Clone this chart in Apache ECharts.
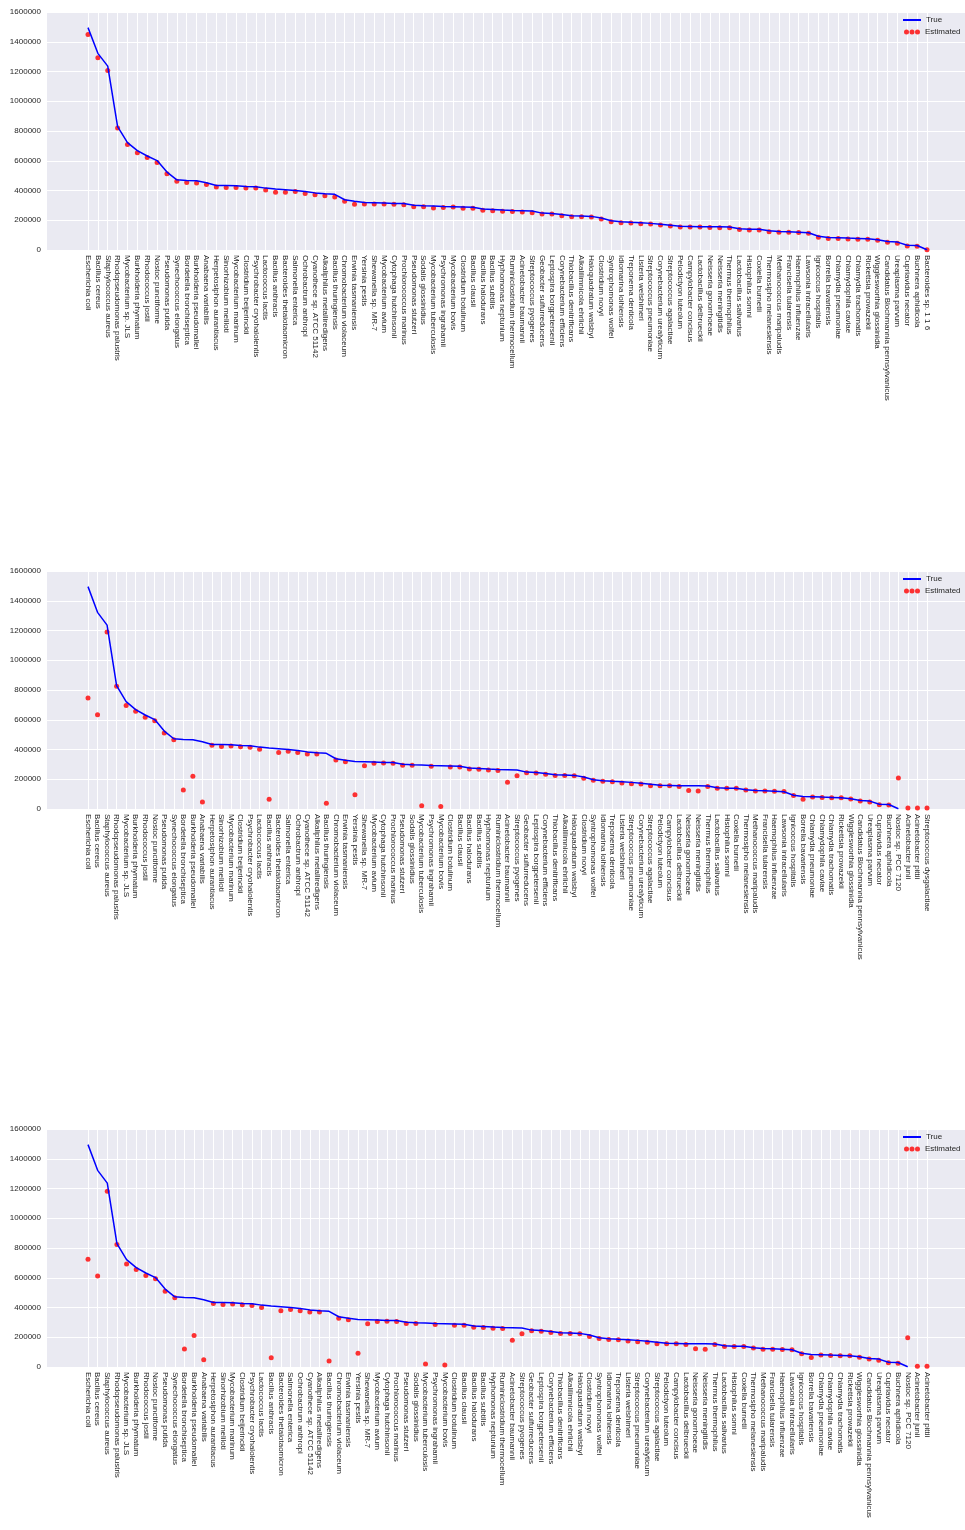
<!DOCTYPE html>
<html>
<head>
<meta charset="utf-8">
<script src="https://cdn.jsdelivr.net/npm/echarts@6/dist/echarts.min.js"></script>
<style>
html,body{margin:0;padding:0;background:#fff;}
#c{width:965px;height:1530px;}
</style>
</head>
<body>
<div id="c"></div>
<script>
// ---- categories ----
const baseCategories = [
'Escherichia coli','Bacillus cereus','Staphylococcus aureus','Rhodopseudomonas palustris','Mycobacterium sp. JLS','Burkholderia phymatum','Rhodococcus jostii','Nostoc punctiforme','Pseudomonas putida','Synechococcus elongatus',
'Bordetella bronchiseptica','Burkholderia pseudomallei','Anabaena variabilis','Herpetosiphon aurantiacus','Sinorhizobium meliloti','Mycobacterium marinum','Clostridium beijerinckii','Psychrobacter cryohalolentis','Lactococcus lactis','Bacillus anthracis',
'Bacteroides thetaiotaomicron','Salmonella enterica','Ochrobactrum anthropi','Cyanothece sp. ATCC 51142','Alkaliphilus metalliredigens','Bacillus thuringiensis','Chromobacterium violaceum','Erwinia tasmaniensis','Yersinia pestis','Shewanella sp. MR-7',
'Mycobacterium avium','Cytophaga hutchinsonii','Prochlorococcus marinus','Pseudomonas stutzeri','Sodalis glossinidius','Mycobacterium tuberculosis','Psychromonas ingrahamii','Mycobacterium bovis','Clostridium botulinum','Bacillus clausii',
'Bacillus halodurans','Bacillus subtilis','Hyphomonas neptunium','Ruminiclostridium thermocellum','Acinetobacter baumannii','Streptococcus pyogenes','Geobacter sulfurreducens','Leptospira borgpetersenii','Corynebacterium efficiens','Thiobacillus denitrificans',
'Alkalilimnicola ehrlichii','Haloquadratum walsbyi','Clostridium novyi','Syntrophomonas wolfei','Idiomarina loihiensis','Treponema denticola','Listeria welshimeri','Streptococcus pneumoniae','Corynebacterium urealyticum','Streptococcus agalactiae',
'Pelodictyon luteolum','Campylobacter concisus','Lactobacillus delbrueckii','Neisseria gonorrhoeae','Neisseria meningitidis','Thermus thermophilus','Lactobacillus salivarius','Histophilus somni','Coxiella burnetii','Thermosipho melanesiensis',
'Methanococcus maripaludis','Francisella tularensis','Haemophilus influenzae','Lawsonia intracellularis','Ignicoccus hospitalis','Borrelia bavariensis','Chlamydia pneumoniae','Chlamydophila caviae','Chlamydia trachomatis','Rickettsia prowazekii',
'Wigglesworthia glossinidia','Candidatus Blochmannia pennsylvanicus','Ureaplasma parvum','Cupriavidus necator','Buchnera aphidicola'
];
const extraCategories1 = ['Bacteroides sp. 1 1 6'];
const extraCategories2 = ['Nostoc sp. PCC 7120','Acinetobacter junii','Acinetobacter pittii','Streptococcus dysgalactiae'];
const extraCategories3 = ['Nostoc sp. PCC 7120','Acinetobacter junii','Acinetobacter pittii'];

// ---- true values (shared part) ----
const trueBase = [
1495000,1322000,1236000,830000,722000,668000,632000,601000,524000,472000,
468000,465000,452000,434000,433000,432000,427000,425000,416000,410000,
405000,400000,393000,384000,378000,374000,338000,327000,320000,318000,
316000,313000,312000,301000,298000,296000,293000,291000,289000,287000,
275000,273000,269000,266000,264000,262000,248000,245000,238000,231000,
229000,226000,215000,197000,190000,186000,183000,179000,173000,166000,
159000,158000,157000,156000,156000,155000,143000,140000,139000,130000,
124000,122000,120000,116000,92000,84000,83000,80000,78000,76000,
69000,57000,53000,32000,30000
];
const trueTail1 = [2000];
const trueTail2 = [2000, null, null, null];
const trueTail3 = [2000, null, null];

// ---- estimated values ----
const estimated1 = [
1448000,1293000,1206000,821000,709000,653000,622000,588000,512000,463000,
454000,450000,441000,423000,421000,421000,416000,416000,403000,389000,
389000,394000,380000,371000,365000,356000,327000,307000,309000,309000,
309000,307000,305000,291000,291000,282000,285000,289000,280000,280000,
267000,264000,260000,258000,255000,251000,242000,242000,231000,224000,
224000,222000,208000,190000,184000,182000,177000,175000,168000,161000,
155000,155000,155000,152000,150000,150000,137000,134000,134000,123000,
119000,119000,117000,112000,85000,78000,78000,74000,72000,72000,
65000,52000,45000,27000,25000,2000
];
const estimated2 = [
746000,634000,1190000,825000,695000,657000,616000,594000,511000,466000,
128000,220000,47000,428000,421000,424000,419000,415000,401000,65000,
379000,388000,379000,370000,370000,38000,329000,318000,96000,291000,
307000,309000,307000,294000,294000,22000,287000,16000,282000,282000,
269000,267000,262000,259000,179000,224000,244000,242000,233000,226000,
226000,224000,206000,193000,186000,184000,175000,170000,168000,157000,
157000,157000,152000,125000,121000,152000,139000,139000,139000,128000,
121000,121000,119000,117000,90000,65000,81000,78000,76000,76000,
67000,54000,47000,29000,27000,208000,6000,6000,6000
];
const estimated3 = [
725000,612000,1182000,824000,693000,655000,615000,593000,510000,465000,
121000,212000,48000,427000,421000,423000,418000,414000,400000,62000,
378000,387000,378000,369000,369000,40000,328000,317000,92000,290000,
306000,308000,306000,293000,293000,20000,286000,14000,281000,281000,
268000,266000,261000,258000,180000,223000,243000,241000,232000,225000,
225000,223000,205000,192000,185000,183000,174000,169000,167000,156000,
156000,156000,151000,122000,119000,151000,138000,138000,138000,127000,
120000,120000,118000,116000,89000,64000,80000,77000,75000,75000,
66000,53000,46000,28000,26000,196000,5000,5000
];

// ---- y ticks ----
const yMin = 0, yMax = 1600000, yStep = 200000;

const panels = [
  {cats: baseCategories.concat(extraCategories1), tru: trueBase.concat(trueTail1), est: estimated1},
  {cats: baseCategories.concat(extraCategories2), tru: trueBase.concat(trueTail2), est: estimated2},
  {cats: baseCategories.concat(extraCategories3), tru: trueBase.concat(trueTail3), est: estimated3}
];

const tops = [12, 571, 1129];
const plotH = 238;
const FONT = '"Liberation Sans", Arial, sans-serif';
const TXT = '#262626';
const dotsIcon = 'path://M0,2.5a2.5,2.5 0 1,0 5,0a2.5,2.5 0 1,0 -5,0Z M5.5,2.5a2.5,2.5 0 1,0 5,0a2.5,2.5 0 1,0 -5,0Z M11,2.5a2.5,2.5 0 1,0 5,0a2.5,2.5 0 1,0 -5,0Z';

const grid = [], xAxis = [], yAxis = [], series = [], legend = [];
panels.forEach((p, i) => {
  const top = tops[i];
  grid.push({left: 47, right: 0, top: top, height: plotH, show: true, backgroundColor: '#EAEAF2', borderWidth: 0, z: -1});
  grid.push({left: 88, right: 38, top: top, height: plotH, show: false});
  xAxis.push({type: 'value', gridIndex: 2*i, show: false, min: 0, max: 1});
  xAxis.push({
    type: 'category', gridIndex: 2*i+1, data: p.cats, boundaryGap: false,
    axisLine: {show: false}, axisTick: {show: false},
    splitLine: {show: true, interval: 0, lineStyle: {color: '#ffffff', width: 1}},
    axisLabel: {interval: 0, rotate: -90, margin: 5, fontSize: 8, color: TXT, fontFamily: FONT, hideOverlap: false}
  });
  yAxis.push({
    type: 'value', gridIndex: 2*i, min: yMin, max: yMax, interval: yStep,
    axisLine: {show: false}, axisTick: {show: false},
    splitLine: {show: true, lineStyle: {color: '#ffffff', width: 1}},
    axisLabel: {margin: 6, fontSize: 8, color: TXT, fontFamily: FONT, formatter: v => String(v)}
  });
  yAxis.push({type: 'value', gridIndex: 2*i+1, min: yMin, max: yMax, show: false});
  series.push({
    name: 'Estimated', type: 'scatter', xAxisIndex: 2*i+1, yAxisIndex: 2*i+1,
    data: p.est, symbolSize: 5, itemStyle: {color: '#ff0000'}, z: 2
  });
  series.push({
    name: 'True', type: 'line', xAxisIndex: 2*i+1, yAxisIndex: 2*i+1,
    data: p.tru, symbol: 'none', lineStyle: {color: '#0000ff', width: 1.5}, itemStyle: {color: '#0000ff'}, z: 3
  });
  legend.push({
    left: 903, top: top + 4, padding: 0, itemWidth: 18, itemHeight: 2, selectedMode: false,
    data: [{name: 'True', icon: 'rect'}],
    textStyle: {fontSize: 8, color: TXT, fontFamily: FONT}
  });
  legend.push({
    left: 904, top: top + 16, padding: 0, itemWidth: 16, itemHeight: 5, itemGap: 0, selectedMode: false,
    data: [{name: 'Estimated', icon: dotsIcon}],
    textStyle: {fontSize: 8, color: TXT, fontFamily: FONT}
  });
});

const chart = echarts.init(document.getElementById('c'), null, {renderer: 'canvas'});
chart.setOption({
  animation: false,
  backgroundColor: '#ffffff',
  grid, xAxis, yAxis, series, legend
});
</script>
</body>
</html>
